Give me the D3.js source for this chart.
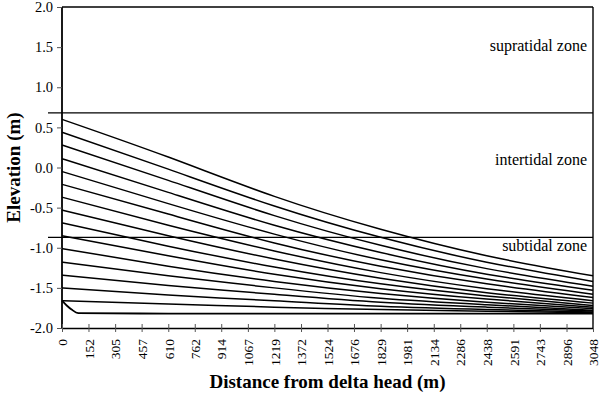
<!DOCTYPE html>
<html>
<head>
<meta charset="utf-8">
<script src="https://cdn.jsdelivr.net/npm/d3@7"></script>
<style>
  body { margin: 0; background: #fff; }
</style>
</head>
<body>
<div id="chart"></div>
<script>
const serif = "'Liberation Serif', 'Times New Roman', serif";

// distances along the profile (m)
const distances = [0, 610, 1219, 1829, 2438, 3048];

// successive bed profiles, elevation (m) at each distance
const p01 = [0.60, 0.13, -0.36, -0.77, -1.10, -1.35];
const p02 = [0.44, -0.02, -0.48, -0.87, -1.18, -1.42];
const p03 = [0.28, -0.16, -0.60, -0.97, -1.26, -1.48];
const p04 = [0.11, -0.31, -0.72, -1.06, -1.33, -1.53];
const p05 = [-0.05, -0.45, -0.83, -1.15, -1.39, -1.58];
const p06 = [-0.21, -0.58, -0.94, -1.23, -1.45, -1.62];
const p07 = [-0.37, -0.72, -1.04, -1.31, -1.51, -1.66];
const p08 = [-0.53, -0.85, -1.14, -1.38, -1.56, -1.69];
const p09 = [-0.69, -0.98, -1.24, -1.45, -1.60, -1.72];
const p10 = [-0.85, -1.10, -1.33, -1.51, -1.64, -1.74];
const p11 = [-1.01, -1.23, -1.42, -1.57, -1.68, -1.76];
const p12 = [-1.18, -1.35, -1.50, -1.63, -1.71, -1.78];
const p13 = [-1.34, -1.47, -1.58, -1.68, -1.74, -1.79];
const p14 = [-1.50, -1.59, -1.66, -1.73, -1.77, -1.80];
const p15 = [-1.66, -1.70, -1.74, -1.77, -1.79, -1.81];

// initial (lowest) profile
const baseDist = [0, 27, 55, 94, 610, 3048];
const baseElev = [-1.66, -1.72, -1.77, -1.815, -1.82, -1.82];

// tide levels (m)
const highTide = 0.68;
const lowTide = -0.87;

const zoneNames = ["supratidal zone", "intertidal zone", "subtidal zone"];

const xTicks = [0, 152, 305, 457, 610, 762, 914, 1067, 1219, 1372, 1524,
                1676, 1829, 1981, 2134, 2286, 2438, 2591, 2743, 2896, 3048];
const yTicks = [2.0, 1.5, 1.0, 0.5, 0.0, -0.5, -1.0, -1.5, -2.0];

const W = 600, H = 398;
const margin = { top: 7, right: 7, bottom: 70, left: 62 };
const width = W - margin.left - margin.right;
const height = H - margin.top - margin.bottom;

const x = d3.scaleLinear().domain([0, 3048]).range([0, width]);
const y = d3.scaleLinear().domain([-2, 2]).range([height, 0]);

const svg = d3.select("#chart").append("svg")
    .attr("width", W)
    .attr("height", H)
    .style("font-family", serif);

const g = svg.append("g")
    .attr("transform", `translate(${margin.left},${margin.top})`);

// frame (top and right)
g.append("line").attr("x1", 0).attr("x2", width).attr("y1", 0).attr("y2", 0)
    .attr("stroke", "#000").attr("stroke-width", 1.6);
g.append("line").attr("x1", width).attr("x2", width).attr("y1", 0).attr("y2", height)
    .attr("stroke", "#000").attr("stroke-width", 1.4);

// tide lines
[highTide, lowTide].forEach(v => {
    g.append("line")
        .attr("x1", -14).attr("x2", width)
        .attr("y1", y(v)).attr("y2", y(v))
        .attr("stroke", "#000").attr("stroke-width", 1.3);
});

// profiles
const profiles = [p01, p02, p03, p04, p05, p06, p07, p08, p09, p10, p11, p12, p13, p14, p15];
const line = d3.line()
    .x(d => x(d[0]))
    .y(d => y(d[1]))
    .curve(d3.curveNatural);

profiles.forEach(p => {
    g.append("path")
        .datum(distances.map((d, i) => [d, p[i]]))
        .attr("fill", "none")
        .attr("stroke", "#000")
        .attr("stroke-width", 1.5)
        .attr("d", line);
});

g.append("path")
    .datum(baseDist.map((d, i) => [d, baseElev[i]]))
    .attr("fill", "none")
    .attr("stroke", "#000")
    .attr("stroke-width", 1.8)
    .attr("d", line.curve(d3.curveMonotoneX));

// y axis
const yAxis = g.append("g")
    .call(d3.axisLeft(y).tickValues(yTicks).tickSize(5).tickPadding(4)
        .tickFormat(d => d3.format(".1f")(d).replace("−", "-")));
yAxis.attr("font-family", null);
yAxis.select(".domain").attr("stroke-width", 1.8).attr("d", `M0,0V${height}`);
yAxis.selectAll("text").style("font-size", "14.5px").style("font-family", serif);
yAxis.selectAll(".tick line").attr("stroke", "#555");

// x axis
const xAxis = g.append("g")
    .attr("transform", `translate(0,${height})`)
    .call(d3.axisBottom(x).tickValues(xTicks).tickSize(4).tickSizeOuter(0)
        .tickFormat(d3.format("d")));
xAxis.attr("font-family", null);
xAxis.select(".domain").attr("stroke-width", 1.6);
xAxis.selectAll(".tick line").attr("y1", -4).attr("stroke", "#555");
xAxis.selectAll("text")
    .style("font-size", "13.5px")
    .style("font-family", serif)
    .attr("text-anchor", "end")
    .attr("dy", "0.35em")
    .attr("y", 0)
    .attr("transform", "translate(0,11) rotate(-90)");

// zone labels
const zoneY = [y(1.455), y(0.03), y(-1.04)];
zoneNames.forEach((name, i) => {
    g.append("text")
        .attr("x", width - 6)
        .attr("y", zoneY[i])
        .attr("text-anchor", "end")
        .style("font-size", "16px")
        .text(name);
});

// axis titles
svg.append("text")
    .attr("transform", `translate(20,${margin.top + height / 2}) rotate(-90)`)
    .attr("text-anchor", "middle")
    .style("font-size", "19px")
    .style("font-weight", "bold")
    .text("Elevation (m)");

svg.append("text")
    .attr("x", margin.left + width / 2)
    .attr("y", 388)
    .attr("text-anchor", "middle")
    .style("font-size", "19px")
    .style("font-weight", "bold")
    .text("Distance from delta head (m)");
</script>
</body>
</html>
